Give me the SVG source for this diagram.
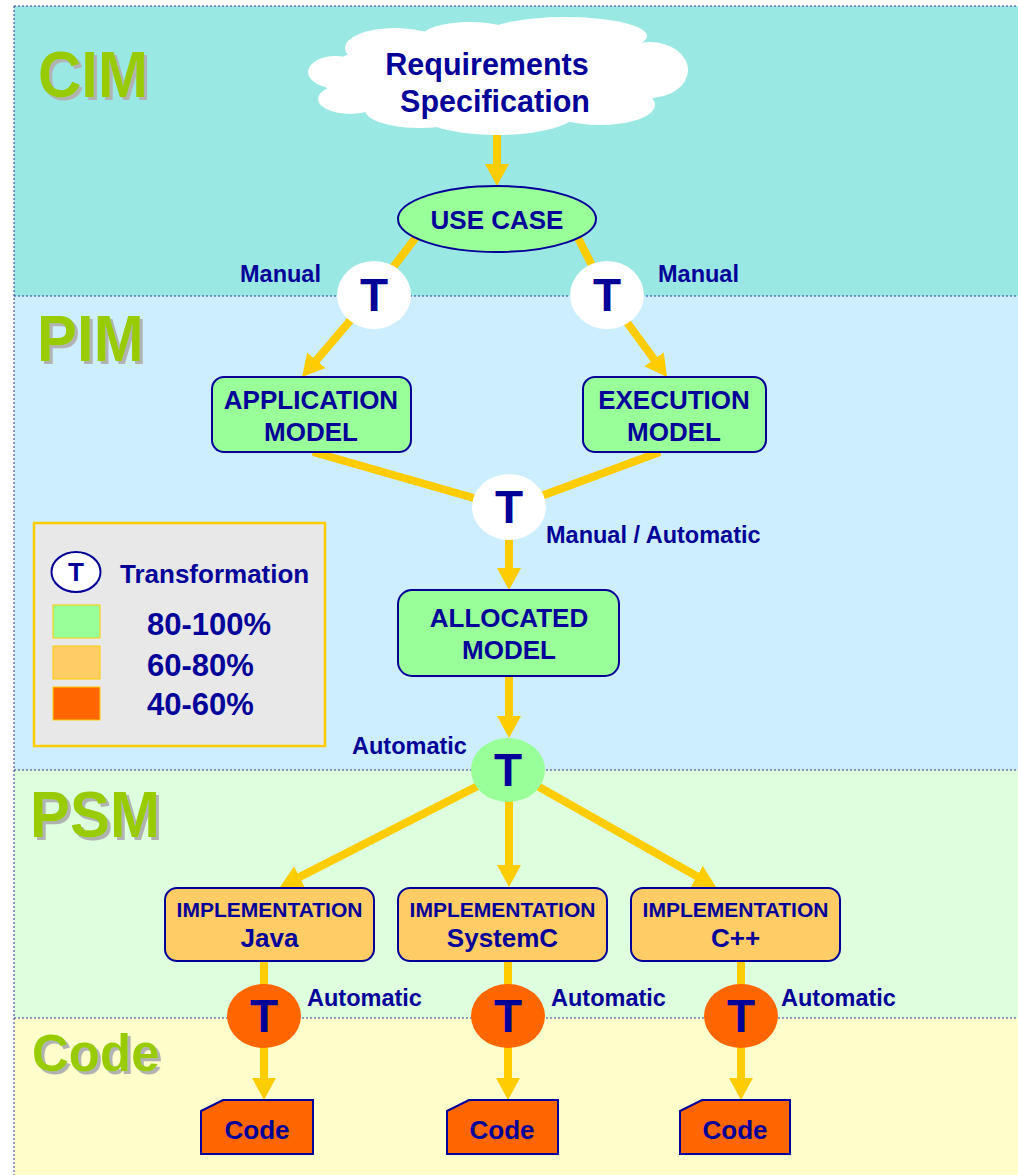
<svg xmlns="http://www.w3.org/2000/svg" width="1018" height="1175" viewBox="0 0 1018 1175">
<style>
text{font-family:"Liberation Sans",Arial,sans-serif;font-weight:bold;fill:#000099}
.band{font-size:60px;fill:#99cc00;filter:url(#shadow)}
.node{font-size:26px;text-anchor:middle}
.impl{font-size:21px;text-anchor:middle}
.lbl{font-size:23.5px}
.t{font-size:46px;text-anchor:middle}
.sep{stroke:#333399;stroke-width:1;stroke-dasharray:2 2;fill:none}
.conn{stroke:#ffcc00;stroke-width:8;fill:none}
.box{stroke:#000099;stroke-width:2}
</style>
<defs>
<marker id="ah" viewBox="0 0 22 24" refX="2" refY="12" markerWidth="22" markerHeight="24" markerUnits="userSpaceOnUse" orient="auto">
<path d="M0,0 L22,12 L0,24 z" fill="#ffcc00"/>
</marker>
<filter id="shadow" x="-10%" y="-10%" width="130%" height="130%">
<feFlood flood-color="#b2b2b2" result="f"/>
<feComposite in="f" in2="SourceAlpha" operator="in" result="s"/>
<feOffset in="s" dx="3" dy="3" result="o"/>
<feMerge><feMergeNode in="o"/><feMergeNode in="SourceGraphic"/></feMerge>
</filter>
</defs>
<rect width="1018" height="1175" fill="#ffffff"/>
<g id="bands">
<rect x="14" y="6" width="1004" height="290" fill="#99e8e3"/>
<rect x="14" y="296" width="1004" height="474" fill="#cceeff"/>
<rect x="14" y="770" width="1004" height="248" fill="#ddffdd"/>
<rect x="14" y="1018" width="1004" height="157" fill="#ffffcc"/>
<line class="sep" x1="14" y1="6" x2="1018" y2="6"/>
<line class="sep" x1="14" y1="6" x2="14" y2="1175"/>
<line class="sep" x1="14" y1="296" x2="1018" y2="296"/>
<line class="sep" x1="14" y1="770" x2="1018" y2="770"/>
<line class="sep" x1="14" y1="1018" x2="1018" y2="1018"/>
</g>
<g id="band-labels">
<text class="band" transform="translate(38,97) scale(1,1.08)">CIM</text>
<text class="band" transform="translate(37,361) scale(1,1.08)">PIM</text>
<text class="band" transform="translate(30,837) scale(1,1.08)">PSM</text>
<text class="band" x="32" y="1071" style="font-size:51px">Code</text>
</g>
<g id="connectors">
<line class="conn" x1="497" y1="130" x2="497" y2="166" marker-end="url(#ah)"/>
<line class="conn" x1="420" y1="232" x2="372" y2="295"/>
<line class="conn" x1="575" y1="232" x2="607" y2="295"/>
<line class="conn" x1="372" y1="295" x2="315" y2="361.8" marker-end="url(#ah)"/>
<line class="conn" x1="607" y1="295" x2="655.2" y2="360.9" marker-end="url(#ah)"/>
<line class="conn" x1="313" y1="452" x2="509" y2="508"/>
<line class="conn" x1="660" y1="452" x2="509" y2="508"/>
<line class="conn" x1="509" y1="508" x2="509" y2="570" marker-end="url(#ah)"/>
<line class="conn" x1="509" y1="676" x2="509" y2="718" marker-end="url(#ah)"/>
<line class="conn" x1="509" y1="770" x2="297.8" y2="877.9" marker-end="url(#ah)"/>
<line class="conn" x1="509" y1="770" x2="509" y2="867" marker-end="url(#ah)"/>
<line class="conn" x1="509" y1="770" x2="698.6" y2="877.2" marker-end="url(#ah)"/>
<line class="conn" x1="264" y1="961" x2="264" y2="1080" marker-end="url(#ah)"/>
<line class="conn" x1="508" y1="961" x2="508" y2="1080" marker-end="url(#ah)"/>
<line class="conn" x1="741" y1="961" x2="741" y2="1080" marker-end="url(#ah)"/>
</g>
<g id="requirements" fill="#ffffff">
<ellipse cx="335" cy="72" rx="27" ry="16"/>
<ellipse cx="350" cy="99" rx="32" ry="15"/>
<ellipse cx="395" cy="48" rx="50" ry="20"/>
<ellipse cx="470" cy="38" rx="50" ry="16"/>
<ellipse cx="565" cy="36" rx="82" ry="19"/>
<ellipse cx="650" cy="70" rx="38" ry="28"/>
<ellipse cx="600" cy="105" rx="55" ry="20"/>
<ellipse cx="497" cy="112" rx="80" ry="23"/>
<ellipse cx="420" cy="110" rx="55" ry="18"/>
<ellipse cx="497" cy="78" rx="175" ry="45"/>
<text x="487" y="75" style="font-size:30.5px" text-anchor="middle">Requirements</text>
<text x="495" y="112" style="font-size:30.5px" text-anchor="middle">Specification</text>
</g>
<g id="use-case">
<ellipse class="box" cx="497" cy="219" rx="99" ry="33" fill="#99ff99"/>
<text class="node" x="497" y="229">USE CASE</text>
</g>
<g id="t-manual-left">
<ellipse cx="374" cy="295" rx="37" ry="34" fill="#ffffff"/>
<text class="t" x="374" y="311">T</text>
<text class="lbl" x="240" y="282">Manual</text>
</g>
<g id="t-manual-right">
<ellipse cx="607" cy="295" rx="37" ry="34" fill="#ffffff"/>
<text class="t" x="607" y="311">T</text>
<text class="lbl" x="658" y="282">Manual</text>
</g>
<g id="application-model">
<rect class="box" x="212" y="377" width="199" height="75" rx="12" fill="#99ff99"/>
<text class="node" x="311" y="409">APPLICATION</text>
<text class="node" x="311" y="441">MODEL</text>
</g>
<g id="execution-model">
<rect class="box" x="583" y="377" width="183" height="75" rx="12" fill="#99ff99"/>
<text class="node" x="674" y="409">EXECUTION</text>
<text class="node" x="674" y="441">MODEL</text>
</g>
<g id="t-manual-auto">
<ellipse cx="509" cy="507" rx="37" ry="33" fill="#ffffff"/>
<text class="t" x="509" y="523">T</text>
<text class="lbl" x="546" y="543">Manual / Automatic</text>
</g>
<g id="allocated-model">
<rect class="box" x="398" y="590" width="221" height="86" rx="14" fill="#99ff99"/>
<text class="node" x="509" y="627">ALLOCATED</text>
<text class="node" x="509" y="659">MODEL</text>
</g>
<g id="t-automatic">
<ellipse cx="508" cy="770" rx="37" ry="32" fill="#99ff99"/>
<text class="t" x="508" y="786">T</text>
<text class="lbl" x="352" y="754">Automatic</text>
</g>
<g id="impl-java">
<rect class="box" x="165" y="888" width="209" height="73" rx="12" fill="#ffcc66"/>
<text class="impl" x="269.5" y="917">IMPLEMENTATION</text>
<text class="node" x="269.5" y="947">Java</text>
</g>
<g id="impl-systemc">
<rect class="box" x="398" y="888" width="209" height="73" rx="12" fill="#ffcc66"/>
<text class="impl" x="502.5" y="917">IMPLEMENTATION</text>
<text class="node" x="502.5" y="947">SystemC</text>
</g>
<g id="impl-cpp">
<rect class="box" x="631" y="888" width="209" height="73" rx="12" fill="#ffcc66"/>
<text class="impl" x="735.5" y="917">IMPLEMENTATION</text>
<text class="node" x="735.5" y="947">C++</text>
</g>
<g id="t-java">
<ellipse cx="264" cy="1016" rx="37" ry="32" fill="#ff6600"/>
<text class="t" x="264" y="1032">T</text>
<text class="lbl" x="307" y="1006">Automatic</text>
</g>
<g id="t-systemc">
<ellipse cx="508" cy="1016" rx="37" ry="32" fill="#ff6600"/>
<text class="t" x="508" y="1032">T</text>
<text class="lbl" x="551" y="1006">Automatic</text>
</g>
<g id="t-cpp">
<ellipse cx="741" cy="1016" rx="37" ry="32" fill="#ff6600"/>
<text class="t" x="741" y="1032">T</text>
<text class="lbl" x="781" y="1006">Automatic</text>
</g>
<g id="code-java">
<path class="box" d="M201,1111 L223,1100 L313,1100 L313,1154 L201,1154 z" fill="#ff6600"/>
<text class="node" x="257" y="1139">Code</text>
</g>
<g id="code-systemc">
<path class="box" d="M447,1111 L469,1100 L558,1100 L558,1154 L447,1154 z" fill="#ff6600"/>
<text class="node" x="502" y="1139">Code</text>
</g>
<g id="code-cpp">
<path class="box" d="M680,1111 L702,1100 L790,1100 L790,1154 L680,1154 z" fill="#ff6600"/>
<text class="node" x="735" y="1139">Code</text>
</g>
<g id="legend">
<rect x="34" y="523" width="291" height="223" fill="#e8e8e8" stroke="#ffcc00" stroke-width="2.5"/>
<ellipse cx="76" cy="572" rx="24.5" ry="20" fill="#ffffff" stroke="#000099" stroke-width="2"/>
<text x="76" y="581" style="font-size:26px" text-anchor="middle">T</text>
<text x="120" y="583" style="font-size:26px">Transformation</text>
<rect x="53" y="605" width="47" height="33" fill="#99ff99" stroke="#ffcc00" stroke-width="1"/>
<rect x="53" y="646" width="47" height="33" fill="#ffcc66" stroke="#ffcc00" stroke-width="1"/>
<rect x="53" y="687" width="47" height="33" fill="#ff6600" stroke="#ffcc00" stroke-width="1"/>
<text x="147" y="635" style="font-size:31px">80-100%</text>
<text x="147" y="676" style="font-size:31px">60-80%</text>
<text x="147" y="715" style="font-size:31px">40-60%</text>
</g>
</svg>
